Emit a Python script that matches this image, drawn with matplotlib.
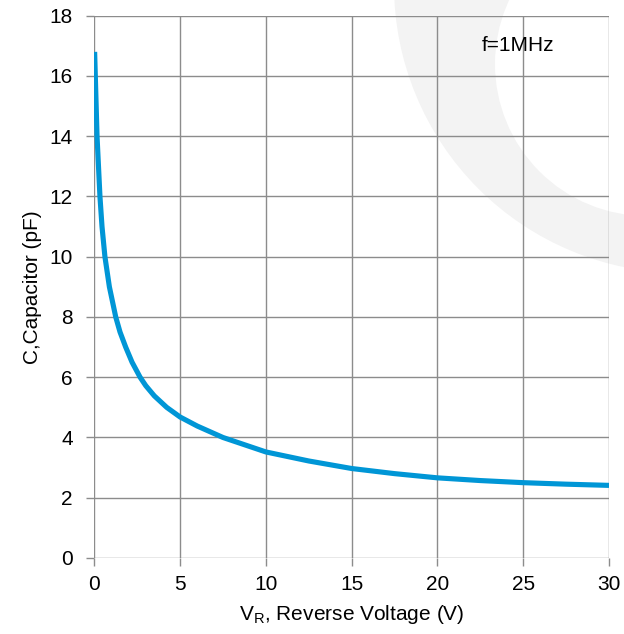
import matplotlib
matplotlib.use('Agg')
import matplotlib.pyplot as plt
from matplotlib.patches import Circle

plt.rcParams['font.family'] = ['Liberation Sans', 'DejaVu Sans']
plt.rcParams['mathtext.fontset'] = 'custom'
plt.rcParams['mathtext.rm'] = 'Liberation Sans'

# valori
vr = [0.02, 0.06, 0.16, 0.33, 0.45, 0.62, 0.88, 1.25, 1.5, 1.83, 2.2, 2.67, 3.0, 3.5, 4.22,
      5, 6, 7.5, 10, 12.5, 15, 17.5, 20, 22.5, 25, 27.5, 30]
cap = [16.8, 16.0, 14.0, 12.0, 11.0, 10.0, 9.0, 8.0, 7.5, 7.0, 6.5, 6.0, 5.72, 5.38, 5.0,
       4.68, 4.38, 4.0, 3.52, 3.22, 2.97, 2.8, 2.66, 2.57, 2.5, 2.45, 2.41]
xticks = [0, 5, 10, 15, 20, 25, 30]
yticks = [0, 2, 4, 6, 8, 10, 12, 14, 16, 18]

grigio = '#8c8c8c'
blu = '#0096d6'

fig = plt.figure(figsize=(6.24, 6.34), dpi=100)

# filigrana chiara sullo sfondo
fig.patches.append(Circle((6.82, 6.49), 2.88, transform=fig.dpi_scale_trans,
                          facecolor='#f3f3f3', edgecolor='none', zorder=-10))
fig.patches.append(Circle((6.47, 5.70), 1.52, transform=fig.dpi_scale_trans,
                          facecolor='white', edgecolor='none', zorder=-9))

ax = fig.add_axes([0.1511, 0.1199, 0.976 - 0.1511, 0.9752 - 0.1199])
ax.set_facecolor('none')

ax.plot(vr, cap, color=blu, lw=3.7, solid_joinstyle='round', solid_capstyle='butt', zorder=3)

ax.set_xlim(0, 30)
ax.set_ylim(0, 18)
ax.set_xticks(xticks)
ax.set_yticks(yticks)
ax.grid(True, color=grigio, lw=1.0)
ax.set_axisbelow(True)
for s in ax.spines.values():
    s.set_visible(False)
ax.tick_params(axis='both', colors=grigio, labelcolor='black', length=5.5, width=1.0, labelsize=15)
ax.tick_params(axis='x', pad=7)
ax.tick_params(axis='y', pad=10)

ax.text(22.6, 17.0, 'f=1MHz', fontsize=15, ha='left', va='center')

ax.set_xlabel(r'V$_\mathregular{R}$, Reverse Voltage (V)', fontsize=15, labelpad=6)
ax.set_ylabel('C,Capacitor (pF)', fontsize=15, labelpad=5)

plt.savefig('out.png', dpi=100)
